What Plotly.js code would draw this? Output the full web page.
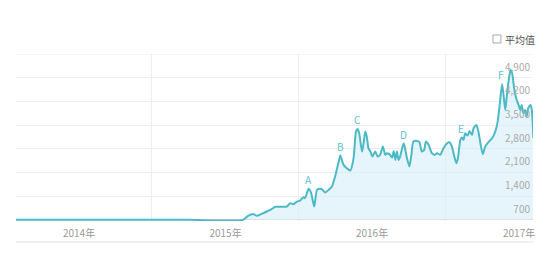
<!DOCTYPE html>
<html>
<head>
<meta charset="utf-8">
<script src="https://cdn.plot.ly/plotly-3.0.1.min.js"></script>
<style>html,body{margin:0;padding:0;background:#fff;}#chart{width:549px;height:256px;}</style>
</head>
<body>
<div id="chart"></div>
<script>
// Index values
const dates = [
  '2013-07-28','2014-03-01','2014-10-01','2015-02-14','2015-02-26','2015-03-12','2015-03-20','2015-04-01','2015-04-14','2015-04-26',
  '2015-05-05','2015-05-21','2015-06-03','2015-06-11','2015-06-19','2015-06-28','2015-07-06','2015-07-14',
  '2015-07-18','2015-07-27','2015-08-02','2015-08-10','2015-08-17','2015-08-25','2015-08-31','2015-09-06',
  '2015-09-15','2015-09-23','2015-10-01','2015-10-10','2015-10-14','2015-10-22','2015-10-30','2015-11-08',
  '2015-11-16','2015-11-22','2015-11-26','2015-11-30','2015-12-07','2015-12-11','2015-12-15','2015-12-19',
  '2015-12-23','2015-12-28','2016-01-02','2016-01-09','2016-01-15','2016-01-21','2016-01-28','2016-02-03',
  '2016-02-07','2016-02-13','2016-02-20','2016-02-24','2016-02-28','2016-03-03','2016-03-07','2016-03-11',
  '2016-03-16','2016-03-20','2016-03-24','2016-03-28','2016-04-03','2016-04-08','2016-04-13','2016-04-22',
  '2016-04-28','2016-05-04','2016-05-10','2016-05-14','2016-05-21','2016-05-29','2016-06-05','2016-06-11',
  '2016-06-19','2016-06-27','2016-07-06','2016-07-12','2016-07-18','2016-07-24','2016-07-29','2016-08-02',
  '2016-08-08','2016-08-12','2016-08-16','2016-08-20','2016-08-26','2016-08-31','2016-09-06','2016-09-10',
  '2016-09-17','2016-09-22','2016-09-27','2016-10-03','2016-10-09','2016-10-17','2016-10-26','2016-11-03',
  '2016-11-09','2016-11-14','2016-11-20','2016-11-24','2016-11-28','2016-12-02','2016-12-06','2016-12-11',
  '2016-12-15','2016-12-20','2016-12-25','2016-12-31','2017-01-04','2017-01-08','2017-01-12','2017-01-16',
  '2017-01-20','2017-01-24','2017-01-30','2017-02-02','2017-02-06'
];
const values = [
  0,0,0,0,118,168,118,177,245,316,
  384,384,393,493,463,540,570,670,
  640,915,806,393,886,915,886,806,
  886,983,1278,1721,1904,1624,1526,1455,
  1821,2607,2686,2559,2016,2264,2607,2459,
  2117,2016,1869,2016,1869,1919,2164,1919,
  1969,1940,1839,2037,1771,2016,1771,1869,
  2117,2264,2066,1821,1573,1919,2311,2332,
  2294,2016,2066,2311,2214,1969,1919,1969,
  1919,2117,2264,2294,2164,1869,1674,1821,
  2362,2430,2362,2559,2489,2627,2509,2707,
  2804,2607,2264,1939,2164,2294,2412,2607,
  2902,3395,4015,3640,3247,3690,4083,4428,
  4331,3888,3593,3395,3247,3395,3150,3247,
  3049,3297,3395,3247,2412
];
const markLetters = ['A','B','C','D','E','F'];
const markIndex = [19, 30, 36, 59, 83, 100];
const yTicks = [700,1400,2100,2800,3500,4200,4900];
const xTickVals = ['2014-01-01','2015-01-01','2016-01-01','2017-01-01'];
const xTickText = ['2014年','2015年','2016年','2017年'];
const xGridVals = ['2014-07-01','2015-07-01','2016-07-01'];

const lineColor = '#4cbac6';
const font = '"Noto Sans CJK SC", "Noto Sans", Arial, sans-serif';
const xTickFont = {family: font, size: 10, color: '#999'};

const trace = {
  x: dates, y: values, type: 'scatter', mode: 'lines',
  line: {color: lineColor, width: 2, shape: 'spline', smoothing: 0.6},
  fill: 'tozeroy', fillcolor: 'rgba(214,239,250,0.6)',
  hoverinfo: 'skip', showlegend: false
};

const annotations = markLetters.map((t, i) => ({
  x: dates[markIndex[i]], y: values[markIndex[i]], xref: 'x', yref: 'y',
  text: t, showarrow: false, yanchor: 'middle', yshift: 9, xshift: i >= 4 ? -1 : 0,
  font: {family: font, size: 10, color: '#5cc3cd'}
}));
annotations.push({
  xref: 'paper', yref: 'paper', x: 0.942, y: 1.0898, xanchor: 'left', yanchor: 'middle',
  text: '平均值', showarrow: false, font: {family: font, size: 10, color: '#555'}
});
// last year label sits at the right edge, where the axis drops it; draw it as a label at the same date
const lastTick = xTickVals.length - 1;
annotations.push({
  x: xTickVals[lastTick], xref: 'x', yref: 'paper', y: -0.0659, xanchor: 'center', yanchor: 'middle',
  text: xTickText[lastTick], showarrow: false, font: xTickFont
});

const layout = {
  width: 549, height: 256,
  margin: {l: 16, r: 16, t: 54, b: 35, pad: 0},
  paper_bgcolor: '#fff', plot_bgcolor: '#fff',
  showlegend: false,
  xaxis: {
    type: 'date', range: ['2013-07-28', '2017-02-05'],
    tickmode: 'array', tickvals: xTickVals.slice(0, lastTick), ticktext: xTickText.slice(0, lastTick),
    showgrid: false, zeroline: false, showline: false, ticks: '',
    ticklabelstandoff: 5,
    tickfont: xTickFont,
    minor: {tickmode: 'array', tickvals: xGridVals, showgrid: true, gridcolor: '#eeeeee', gridwidth: 1, ticks: ''},
    fixedrange: true
  },
  yaxis: {
    range: [-35, 4900], side: 'right', ticklabelposition: 'inside',
    tickmode: 'array', tickvals: yTicks, tickformat: ',d',
    showgrid: true, gridcolor: '#eeeeee', gridwidth: 1,
    zeroline: true, zerolinecolor: '#d8d8d8', zerolinewidth: 1,
    showline: false, ticks: '', ticklabelshift: 13,
    tickfont: {family: font, size: 10, color: '#aaa'},
    fixedrange: true
  },
  shapes: [
    {type: 'line', xref: 'paper', yref: 'y', x0: 0, x1: 1, y0: 4900, y1: 4900, layer: 'below',
     line: {color: '#eeeeee', width: 1}},
    {type: 'line', xref: 'paper', yref: 'paper', x0: 0, x1: 1, y0: -0.1257, y1: -0.1257,
     line: {color: '#e2e2e2', width: 1}},
    {type: 'rect', xref: 'paper', yref: 'paper', x0: 0.9226, x1: 0.938, y0: 1.0659, y1: 1.1138,
     line: {color: '#aaa', width: 1}, fillcolor: '#fff'}
  ],
  annotations: annotations
};

Plotly.newPlot('chart', [trace], layout, {displayModeBar: false, staticPlot: true});
</script>
</body>
</html>
